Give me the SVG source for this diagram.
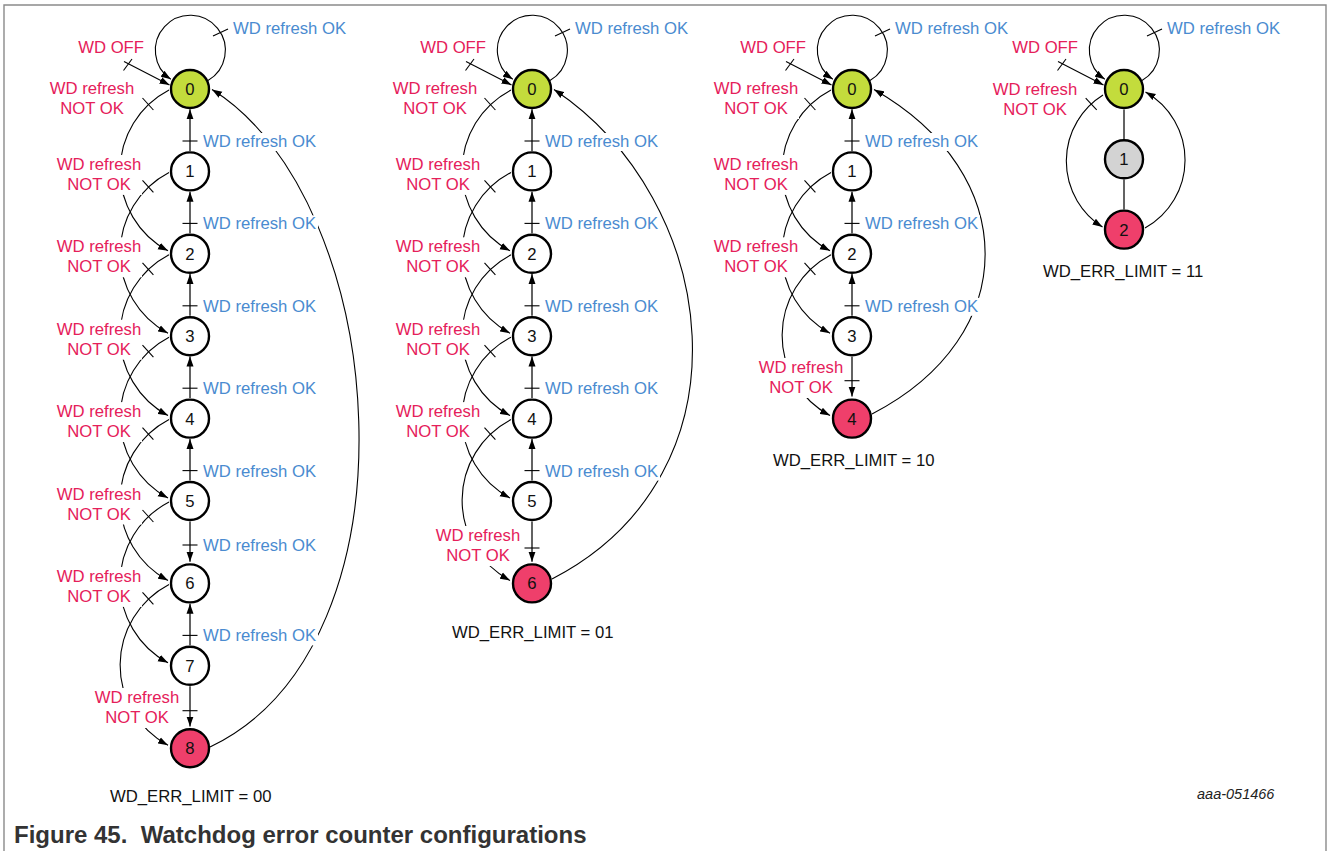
<svg xmlns="http://www.w3.org/2000/svg" width="1328" height="851" viewBox="0 0 1328 851">
<defs>
<marker id="ah" markerUnits="userSpaceOnUse" markerWidth="11" markerHeight="8" refX="10" refY="4" orient="auto" viewBox="0 0 11 8"><path d="M0,0.5 L10,4 L0,7.5 z" fill="#000"/></marker>
<style>
.frame{fill:none;stroke:#8a8a8a;stroke-width:1.4}
.e{fill:none;stroke:#000;stroke-width:1.1}
.v{fill:none;stroke:#3c3c3c;stroke-width:1.6}
.t{stroke:#000;stroke-width:1.1}
.bg{fill:#fff}
.n{stroke:#000;stroke-width:2.4}
.w{fill:#fff}.g{fill:#c3dc3c}.r{fill:#ef3f6b}.gr{fill:#d3d3d3}
text{font-family:"Liberation Sans",Arial,Helvetica,sans-serif;font-size:16.7px}
.red{fill:#e5205a}.blue{fill:#4a8bd0}.blk{fill:#111}
.c{text-anchor:middle}.end{text-anchor:end}
.nt{text-anchor:middle;fill:#111}
.cap{font-weight:bold;font-size:24px;fill:#333;white-space:pre}
.id{font-style:italic;font-size:14.5px;fill:#222}
</style>
</defs>
<path class="frame" d="M4,851 V5 H1326 V851"/>

<g id="connectors">
<!-- Diagram 1 -->
<path class="e" d="M208,80.5 A35 35 0 1 0 170.8,79.3" marker-end="url(#ah)"/>
<line class="t" x1="213" y1="36" x2="228" y2="29"/>
<line class="e" x1="124" y1="61.5" x2="169.5" y2="85" marker-end="url(#ah)"/>
<line class="t" x1="123.5" y1="70.5" x2="132" y2="59"/>
<path class="e" d="M169,90 A91 91 0 0 0 168,250.8" marker-end="url(#ah)"/>
<path class="e" d="M169,172.4 A91 91 0 0 0 168,333.2" marker-end="url(#ah)"/>
<path class="e" d="M169,254.8 A91 91 0 0 0 168,415.6" marker-end="url(#ah)"/>
<path class="e" d="M169,337.2 A91 91 0 0 0 168,498" marker-end="url(#ah)"/>
<path class="e" d="M169,419.6 A91 91 0 0 0 168,580.4" marker-end="url(#ah)"/>
<path class="e" d="M169,502 A91 91 0 0 0 168,662.8" marker-end="url(#ah)"/>
<path class="e" d="M169,584.4 A91 91 0 0 0 168,745.2" marker-end="url(#ah)"/>
<line class="t" x1="142.5" y1="98" x2="153.4" y2="110"/>
<line class="t" x1="142.5" y1="180.4" x2="153.4" y2="192.4"/>
<line class="t" x1="142.5" y1="262.8" x2="153.4" y2="274.8"/>
<line class="t" x1="142.5" y1="345.2" x2="153.4" y2="357.2"/>
<line class="t" x1="142.5" y1="427.6" x2="153.4" y2="439.6"/>
<line class="t" x1="142.5" y1="510" x2="153.4" y2="522"/>
<line class="t" x1="142.5" y1="592.4" x2="153.4" y2="604.4"/>
<line class="v" x1="190" y1="150.9" x2="190" y2="109.3" marker-end="url(#ah)"/>
<line class="v" x1="190" y1="233.3" x2="190" y2="191.7" marker-end="url(#ah)"/>
<line class="v" x1="190" y1="315.7" x2="190" y2="274.1" marker-end="url(#ah)"/>
<line class="v" x1="190" y1="398.1" x2="190" y2="356.5" marker-end="url(#ah)"/>
<line class="v" x1="190" y1="480.5" x2="190" y2="438.9" marker-end="url(#ah)"/>
<line class="v" x1="190" y1="521.5" x2="190" y2="561.7" marker-end="url(#ah)"/>
<line class="v" x1="190" y1="645.3" x2="190" y2="603.7" marker-end="url(#ah)"/>
<line class="v" x1="190" y1="686.3" x2="190" y2="726.5" marker-end="url(#ah)"/>
<line class="t" x1="182.5" y1="141" x2="197.5" y2="141"/>
<line class="t" x1="182.5" y1="223.4" x2="197.5" y2="223.4"/>
<line class="t" x1="182.5" y1="305.8" x2="197.5" y2="305.8"/>
<line class="t" x1="182.5" y1="388.2" x2="197.5" y2="388.2"/>
<line class="t" x1="182.5" y1="470.6" x2="197.5" y2="470.6"/>
<line class="t" x1="182.5" y1="545" x2="197.5" y2="545"/>
<line class="t" x1="182.5" y1="635.4" x2="197.5" y2="635.4"/>
<line class="t" x1="182.5" y1="710.7" x2="197.5" y2="710.7"/>
<path class="e" d="M210,747 C426,644 390,200 212,89.5" marker-end="url(#ah)"/>

<!-- Diagram 2 -->
<path class="e" d="M550,80.5 A35 35 0 1 0 512.8,79.3" marker-end="url(#ah)"/>
<line class="t" x1="555" y1="36" x2="570" y2="29"/>
<line class="e" x1="466" y1="61.5" x2="511.5" y2="85" marker-end="url(#ah)"/>
<line class="t" x1="465.5" y1="70.5" x2="474" y2="59"/>
<path class="e" d="M511,90 A91 91 0 0 0 510,250.8" marker-end="url(#ah)"/>
<path class="e" d="M511,172.4 A91 91 0 0 0 510,333.2" marker-end="url(#ah)"/>
<path class="e" d="M511,254.8 A91 91 0 0 0 510,415.6" marker-end="url(#ah)"/>
<path class="e" d="M511,337.2 A91 91 0 0 0 510,498" marker-end="url(#ah)"/>
<path class="e" d="M511,419.6 A91 91 0 0 0 510,580.4" marker-end="url(#ah)"/>
<line class="t" x1="484.5" y1="98" x2="495.4" y2="110"/>
<line class="t" x1="484.5" y1="180.4" x2="495.4" y2="192.4"/>
<line class="t" x1="484.5" y1="262.8" x2="495.4" y2="274.8"/>
<line class="t" x1="484.5" y1="345.2" x2="495.4" y2="357.2"/>
<line class="t" x1="484.5" y1="427.6" x2="495.4" y2="439.6"/>
<line class="v" x1="532" y1="150.9" x2="532" y2="109.3" marker-end="url(#ah)"/>
<line class="v" x1="532" y1="233.3" x2="532" y2="191.7" marker-end="url(#ah)"/>
<line class="v" x1="532" y1="315.7" x2="532" y2="274.1" marker-end="url(#ah)"/>
<line class="v" x1="532" y1="398.1" x2="532" y2="356.5" marker-end="url(#ah)"/>
<line class="v" x1="532" y1="480.5" x2="532" y2="438.9" marker-end="url(#ah)"/>
<line class="v" x1="532" y1="521.5" x2="532" y2="561.7" marker-end="url(#ah)"/>
<line class="t" x1="524.5" y1="141" x2="539.5" y2="141"/>
<line class="t" x1="524.5" y1="223.4" x2="539.5" y2="223.4"/>
<line class="t" x1="524.5" y1="305.8" x2="539.5" y2="305.8"/>
<line class="t" x1="524.5" y1="388.2" x2="539.5" y2="388.2"/>
<line class="t" x1="524.5" y1="470.6" x2="539.5" y2="470.6"/>
<line class="t" x1="524.5" y1="548" x2="539.5" y2="548"/>
<path class="e" d="M552,579 C757,473 720,200 554,89.5" marker-end="url(#ah)"/>

<!-- Diagram 3 -->
<path class="e" d="M870,80.5 A35 35 0 1 0 832.8,79.3" marker-end="url(#ah)"/>
<line class="t" x1="875" y1="36" x2="890" y2="29"/>
<line class="e" x1="786" y1="61.5" x2="831.5" y2="85" marker-end="url(#ah)"/>
<line class="t" x1="785.5" y1="70.5" x2="794" y2="59"/>
<path class="e" d="M831,90 A91 91 0 0 0 830,250.8" marker-end="url(#ah)"/>
<path class="e" d="M831,172.4 A91 91 0 0 0 830,333.2" marker-end="url(#ah)"/>
<path class="e" d="M831,254.8 A91 91 0 0 0 830,415.6" marker-end="url(#ah)"/>
<line class="t" x1="804.5" y1="98" x2="815.4" y2="110"/>
<line class="t" x1="804.5" y1="180.4" x2="815.4" y2="192.4"/>
<line class="t" x1="804.5" y1="262.8" x2="815.4" y2="274.8"/>
<line class="v" x1="852" y1="150.9" x2="852" y2="109.3" marker-end="url(#ah)"/>
<line class="v" x1="852" y1="233.3" x2="852" y2="191.7" marker-end="url(#ah)"/>
<line class="v" x1="852" y1="315.7" x2="852" y2="274.1" marker-end="url(#ah)"/>
<line class="v" x1="852" y1="356.7" x2="852" y2="396.5" marker-end="url(#ah)"/>
<line class="t" x1="844.5" y1="141" x2="859.5" y2="141"/>
<line class="t" x1="844.5" y1="223.4" x2="859.5" y2="223.4"/>
<line class="t" x1="844.5" y1="305.8" x2="859.5" y2="305.8"/>
<line class="t" x1="844.5" y1="380.7" x2="859.5" y2="380.7"/>
<path class="e" d="M872,414 C1023,336 1022,174 874,89.5" marker-end="url(#ah)"/>

<!-- Diagram 4 -->
<path class="e" d="M1142,80.5 A35 35 0 1 0 1104.8,79.3" marker-end="url(#ah)"/>
<line class="t" x1="1147" y1="36" x2="1162" y2="29"/>
<line class="e" x1="1058" y1="61.5" x2="1103.5" y2="85" marker-end="url(#ah)"/>
<line class="t" x1="1057.5" y1="70.5" x2="1066" y2="59"/>
<path class="e" d="M1103,95 A78 78 0 0 0 1102.5,227" marker-end="url(#ah)"/>
<line class="t" x1="1085.7" y1="98.1" x2="1096.7" y2="109.8"/>
<path class="e" d="M1145,228 A78 78 0 0 0 1145.5,92" marker-end="url(#ah)"/>
<line class="v" x1="1124" y1="109.5" x2="1124" y2="139"/>
<line class="v" x1="1124" y1="179.5" x2="1124" y2="209.5"/>
</g>

<g id="labels">
<!-- Diagram 1 -->
<text class="blue" x="233" y="34">WD refresh OK</text>
<text class="red end" x="144" y="53">WD OFF</text>
<g><rect class="bg" x="49" y="79" width="86" height="40"/><text class="red c" x="92" y="94">WD refresh</text><text class="red c" x="92" y="114">NOT OK</text></g>
<g><rect class="bg" x="56" y="154.9" width="86" height="40"/><text class="red c" x="99" y="169.9">WD refresh</text><text class="red c" x="99" y="189.9">NOT OK</text></g>
<g><rect class="bg" x="56" y="237.3" width="86" height="40"/><text class="red c" x="99" y="252.3">WD refresh</text><text class="red c" x="99" y="272.3">NOT OK</text></g>
<g><rect class="bg" x="56" y="319.7" width="86" height="40"/><text class="red c" x="99" y="334.7">WD refresh</text><text class="red c" x="99" y="354.7">NOT OK</text></g>
<g><rect class="bg" x="56" y="402.1" width="86" height="40"/><text class="red c" x="99" y="417.1">WD refresh</text><text class="red c" x="99" y="437.1">NOT OK</text></g>
<g><rect class="bg" x="56" y="484.5" width="86" height="40"/><text class="red c" x="99" y="499.5">WD refresh</text><text class="red c" x="99" y="519.5">NOT OK</text></g>
<g><rect class="bg" x="56" y="566.9" width="86" height="40"/><text class="red c" x="99" y="581.9">WD refresh</text><text class="red c" x="99" y="601.9">NOT OK</text></g>
<g><rect class="bg" x="94" y="688" width="86" height="40"/><text class="red c" x="137" y="703">WD refresh</text><text class="red c" x="137" y="723">NOT OK</text></g>
<g><rect class="bg" x="201" y="133" width="117" height="18"/><text class="blue" x="203" y="147">WD refresh OK</text></g>
<g><rect class="bg" x="201" y="215.4" width="117" height="18"/><text class="blue" x="203" y="229.4">WD refresh OK</text></g>
<g><rect class="bg" x="201" y="297.8" width="117" height="18"/><text class="blue" x="203" y="311.8">WD refresh OK</text></g>
<g><rect class="bg" x="201" y="380.2" width="117" height="18"/><text class="blue" x="203" y="394.2">WD refresh OK</text></g>
<g><rect class="bg" x="201" y="462.6" width="117" height="18"/><text class="blue" x="203" y="476.6">WD refresh OK</text></g>
<g><rect class="bg" x="201" y="537" width="117" height="18"/><text class="blue" x="203" y="551">WD refresh OK</text></g>
<g><rect class="bg" x="201" y="627.4" width="117" height="18"/><text class="blue" x="203" y="641.4">WD refresh OK</text></g>
<text class="blk" x="110" y="802">WD_ERR_LIMIT = 00</text>

<!-- Diagram 2 -->
<text class="blue" x="575" y="34">WD refresh OK</text>
<text class="red end" x="486" y="53">WD OFF</text>
<g><rect class="bg" x="392" y="79" width="86" height="40"/><text class="red c" x="435" y="94">WD refresh</text><text class="red c" x="435" y="114">NOT OK</text></g>
<g><rect class="bg" x="395" y="154.9" width="86" height="40"/><text class="red c" x="438" y="169.9">WD refresh</text><text class="red c" x="438" y="189.9">NOT OK</text></g>
<g><rect class="bg" x="395" y="237.3" width="86" height="40"/><text class="red c" x="438" y="252.3">WD refresh</text><text class="red c" x="438" y="272.3">NOT OK</text></g>
<g><rect class="bg" x="395" y="319.7" width="86" height="40"/><text class="red c" x="438" y="334.7">WD refresh</text><text class="red c" x="438" y="354.7">NOT OK</text></g>
<g><rect class="bg" x="395" y="402.1" width="86" height="40"/><text class="red c" x="438" y="417.1">WD refresh</text><text class="red c" x="438" y="437.1">NOT OK</text></g>
<g><rect class="bg" x="435" y="526" width="86" height="40"/><text class="red c" x="478" y="541">WD refresh</text><text class="red c" x="478" y="561">NOT OK</text></g>
<g><rect class="bg" x="543" y="133" width="117" height="18"/><text class="blue" x="545" y="147">WD refresh OK</text></g>
<g><rect class="bg" x="543" y="215.4" width="117" height="18"/><text class="blue" x="545" y="229.4">WD refresh OK</text></g>
<g><rect class="bg" x="543" y="297.8" width="117" height="18"/><text class="blue" x="545" y="311.8">WD refresh OK</text></g>
<g><rect class="bg" x="543" y="380.2" width="117" height="18"/><text class="blue" x="545" y="394.2">WD refresh OK</text></g>
<g><rect class="bg" x="543" y="462.6" width="117" height="18"/><text class="blue" x="545" y="476.6">WD refresh OK</text></g>
<text class="blk" x="452" y="637.5">WD_ERR_LIMIT = 01</text>

<!-- Diagram 3 -->
<text class="blue" x="895" y="34">WD refresh OK</text>
<text class="red end" x="806" y="53">WD OFF</text>
<g><rect class="bg" x="713" y="79" width="86" height="40"/><text class="red c" x="756" y="94">WD refresh</text><text class="red c" x="756" y="114">NOT OK</text></g>
<g><rect class="bg" x="713" y="154.9" width="86" height="40"/><text class="red c" x="756" y="169.9">WD refresh</text><text class="red c" x="756" y="189.9">NOT OK</text></g>
<g><rect class="bg" x="713" y="237.3" width="86" height="40"/><text class="red c" x="756" y="252.3">WD refresh</text><text class="red c" x="756" y="272.3">NOT OK</text></g>
<g><rect class="bg" x="758" y="358" width="86" height="40"/><text class="red c" x="801" y="373">WD refresh</text><text class="red c" x="801" y="393">NOT OK</text></g>
<g><rect class="bg" x="863" y="133" width="117" height="18"/><text class="blue" x="865" y="147">WD refresh OK</text></g>
<g><rect class="bg" x="863" y="215.4" width="117" height="18"/><text class="blue" x="865" y="229.4">WD refresh OK</text></g>
<g><rect class="bg" x="863" y="297.8" width="117" height="18"/><text class="blue" x="865" y="311.8">WD refresh OK</text></g>
<text class="blk" x="773" y="465.5">WD_ERR_LIMIT = 10</text>

<!-- Diagram 4 -->
<text class="blue" x="1167" y="34">WD refresh OK</text>
<text class="red end" x="1078" y="53">WD OFF</text>
<g><rect class="bg" x="992" y="79.5" width="86" height="40"/><text class="red c" x="1035" y="94.5">WD refresh</text><text class="red c" x="1035" y="114.5">NOT OK</text></g>
<text class="blk" x="1043" y="277">WD_ERR_LIMIT = 11</text>

<text class="id" x="1197" y="799">aaa-051466</text>
<text class="cap" x="14" y="843">Figure 45.  Watchdog error counter configurations</text>
</g>

<g id="d1-n0"><circle class="n g" cx="190" cy="89" r="19"/><text class="nt" x="190" y="95">0</text></g>
<g id="d1-n1"><circle class="n w" cx="190" cy="171.4" r="19"/><text class="nt" x="190" y="177.4">1</text></g>
<g id="d1-n2"><circle class="n w" cx="190" cy="253.8" r="19"/><text class="nt" x="190" y="259.8">2</text></g>
<g id="d1-n3"><circle class="n w" cx="190" cy="336.2" r="19"/><text class="nt" x="190" y="342.2">3</text></g>
<g id="d1-n4"><circle class="n w" cx="190" cy="418.6" r="19"/><text class="nt" x="190" y="424.6">4</text></g>
<g id="d1-n5"><circle class="n w" cx="190" cy="501" r="19"/><text class="nt" x="190" y="507">5</text></g>
<g id="d1-n6"><circle class="n w" cx="190" cy="583.4" r="19"/><text class="nt" x="190" y="589.4">6</text></g>
<g id="d1-n7"><circle class="n w" cx="190" cy="665.8" r="19"/><text class="nt" x="190" y="671.8">7</text></g>
<g id="d1-n8"><circle class="n r" cx="190" cy="748.2" r="19"/><text class="nt" x="190" y="754.2">8</text></g>

<g id="d2-n0"><circle class="n g" cx="532" cy="89" r="19"/><text class="nt" x="532" y="95">0</text></g>
<g id="d2-n1"><circle class="n w" cx="532" cy="171.4" r="19"/><text class="nt" x="532" y="177.4">1</text></g>
<g id="d2-n2"><circle class="n w" cx="532" cy="253.8" r="19"/><text class="nt" x="532" y="259.8">2</text></g>
<g id="d2-n3"><circle class="n w" cx="532" cy="336.2" r="19"/><text class="nt" x="532" y="342.2">3</text></g>
<g id="d2-n4"><circle class="n w" cx="532" cy="418.6" r="19"/><text class="nt" x="532" y="424.6">4</text></g>
<g id="d2-n5"><circle class="n w" cx="532" cy="501" r="19"/><text class="nt" x="532" y="507">5</text></g>
<g id="d2-n6"><circle class="n r" cx="532" cy="583.4" r="19"/><text class="nt" x="532" y="589.4">6</text></g>

<g id="d3-n0"><circle class="n g" cx="852" cy="89" r="19"/><text class="nt" x="852" y="95">0</text></g>
<g id="d3-n1"><circle class="n w" cx="852" cy="171.4" r="19"/><text class="nt" x="852" y="177.4">1</text></g>
<g id="d3-n2"><circle class="n w" cx="852" cy="253.8" r="19"/><text class="nt" x="852" y="259.8">2</text></g>
<g id="d3-n3"><circle class="n w" cx="852" cy="336.2" r="19"/><text class="nt" x="852" y="342.2">3</text></g>
<g id="d3-n4"><circle class="n r" cx="852" cy="418.6" r="19"/><text class="nt" x="852" y="424.6">4</text></g>

<g id="d4-n0"><circle class="n g" cx="1124" cy="89" r="19"/><text class="nt" x="1124" y="95">0</text></g>
<g id="d4-n1"><circle class="n gr" cx="1124" cy="159.3" r="19"/><text class="nt" x="1124" y="165.3">1</text></g>
<g id="d4-n2"><circle class="n r" cx="1124" cy="229.6" r="19"/><text class="nt" x="1124" y="235.6">2</text></g>
</svg>
